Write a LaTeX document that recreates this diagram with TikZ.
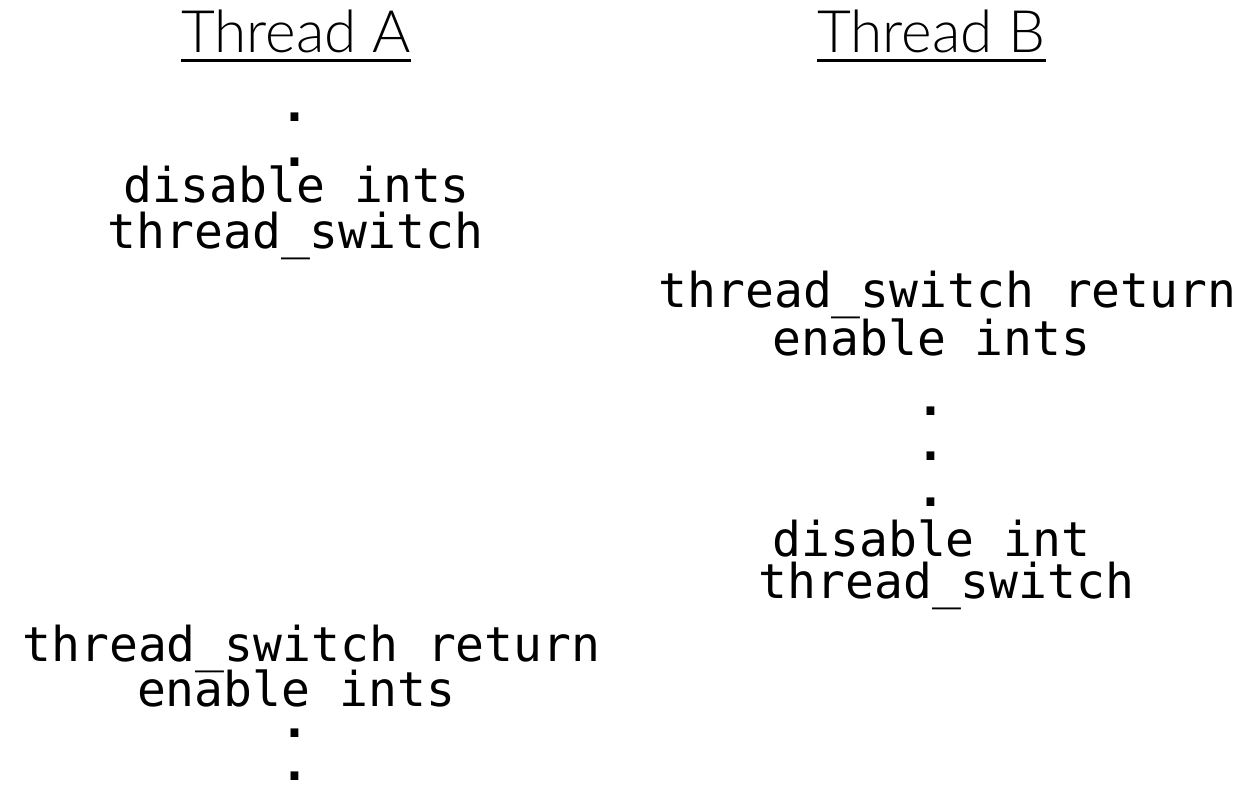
\documentclass[tikz,border=0pt]{standalone}
\usepackage{fontspec}
\setmonofont{DejaVu Sans Mono}
\newfontfamily\titlefont{Lato Light}
\begin{document}
\begin{tikzpicture}[x=1pt,y=-1pt,
  code/.style={font=\fontsize{48}{48}\selectfont\ttfamily, inner sep=0pt, anchor=base},
  dots/.style={code, font=\fontsize{48}{48}\selectfont\ttfamily\bfseries},
  title/.style={font=\fontsize{58.5}{58.5}\selectfont\titlefont, inner sep=0pt, anchor=base},
  underline/.style={line width=3pt}]
\useasboundingbox[fill=white] (0,0) rectangle (1244,794);

% column headings
\node[title] (tA) at (296,53) {Thread A};
\node[title] (tB) at (931.5,53) {Thread B};
\draw[underline] ([yshift=-8pt]tA.base west) -- ([yshift=-8pt]tA.base east);
\draw[underline] ([yshift=-8pt]tB.base west) -- ([yshift=-8pt]tB.base east);

% thread A, before the switch
\node[dots] (a1) at (295,122) {.};
\node[dots] (a2) at (295,167) {.};
\node[code] (a3) at (296.5,203) {disable ints};
\node[code] (a4) at (295.5,249) {thread\_switch};

% thread B
\node[code] (b1) at (947.5,307) {thread\_switch return};
\node[code] (b2) at (931.5,355) {enable ints};
\node[dots] (b3) at (931,415) {.};
\node[dots] (b4) at (931,460) {.};
\node[dots] (b5) at (931,506) {.};
\node[code] (b6) at (931.5,556) {disable int};
\node[code] (b7) at (946.5,598) {thread\_switch};

% thread A, after the switch
\node[code] (c1) at (311.5,661) {thread\_switch return};
\node[code] (c2) at (296,706) {enable ints};
\node[dots] (c3) at (295,737) {.};
\node[dots] (c4) at (295,780) {.};
\end{tikzpicture}
\end{document}
